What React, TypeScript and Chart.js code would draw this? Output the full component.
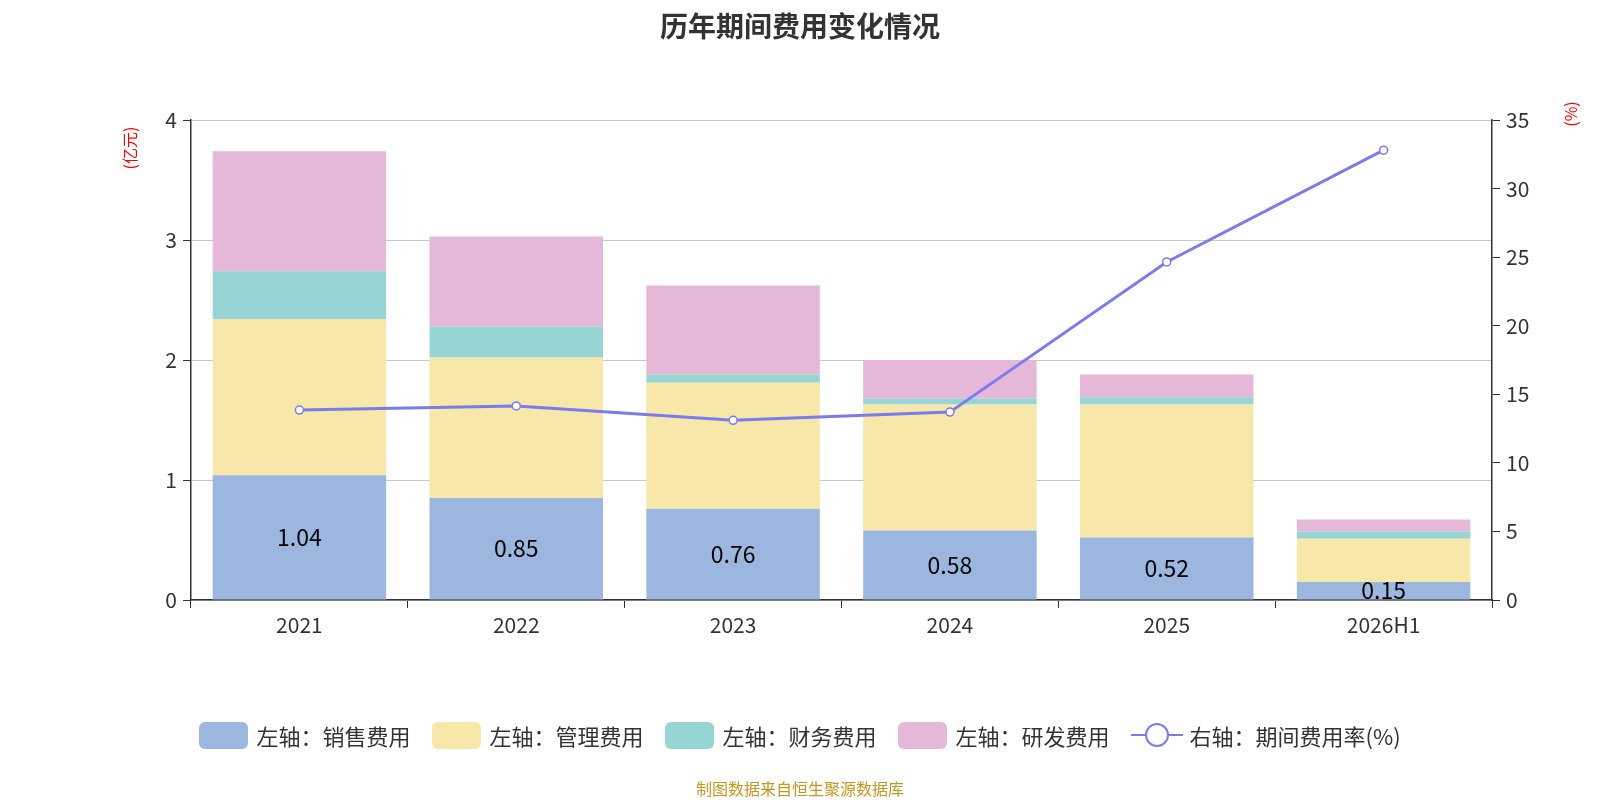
import React, { useEffect, useRef } from "react";
import { Chart, registerables } from "chart.js";
Chart.register(...registerables);

const categories = ["2021", "2022", "2023", "2024", "2025", "2026H1"];
const sales = [1.04, 0.85, 0.76, 0.58, 0.52, 0.15];
const admin = [1.3, 1.17, 1.05, 1.05, 1.11, 0.36];
const finance = [0.4, 0.26, 0.07, 0.05, 0.06, 0.06];
const rnd = [1.0, 0.75, 0.74, 0.32, 0.19, 0.1];
const rate = [13.85, 14.15, 13.1, 13.7, 24.65, 32.8];

const FONT = "'Noto Sans CJK SC', 'Noto Sans', sans-serif";
const C = { sales: "#9bb7e0", admin: "#f7e7a9", fin: "#97d4d4", rnd: "#e6b8d8", line: "#7b7bf0" };

const extras = {
  id: "extras",
  afterDatasetsDraw(chart: any) {
    const ctx = chart.ctx;
    const meta = chart.getDatasetMeta(0);
    ctx.save();
    ctx.font = `23px ${FONT}`;
    ctx.fillStyle = "#000";
    ctx.textAlign = "center";
    ctx.textBaseline = "middle";
    meta.data.forEach((b: any, i: number) => {
      ctx.fillText(sales[i].toFixed(2), b.x, (b.y + b.base) / 2);
    });
    ctx.fillStyle = "red";
    ctx.font = `16px ${FONT}`;
    ctx.translate(130, 148);
    ctx.rotate(-Math.PI / 2);
    ctx.fillText("(亿元)", 0, 0);
    ctx.restore();
    ctx.save();
    ctx.fillStyle = "red";
    ctx.font = `16px ${FONT}`;
    ctx.textAlign = "center";
    ctx.textBaseline = "middle";
    ctx.translate(1571, 114);
    ctx.rotate(-Math.PI / 2);
    ctx.fillText("(%)", 0, 0);
    ctx.restore();
  },
};

export default function App() {
  const ref = useRef<HTMLCanvasElement>(null);
  useEffect(() => {
    document.body.style.margin = "0";
    const bar = (label: string, data: number[], color: string) => ({
      type: "bar" as const, label, data, backgroundColor: color, stack: "s", yAxisID: "y",
      categoryPercentage: 0.8, barPercentage: 1, order: 2,
    });
    const chart = new Chart(ref.current!, {
      type: "bar",
      data: {
        labels: categories,
        datasets: [
          bar("左轴：销售费用", sales, C.sales),
          bar("左轴：管理费用", admin, C.admin),
          bar("左轴：财务费用", finance, C.fin),
          bar("左轴：研发费用", rnd, C.rnd),
          {
            type: "line" as const, label: "右轴：期间费用率(%)", data: rate, yAxisID: "y1",
            borderColor: C.line, backgroundColor: "#fff", borderWidth: 3, pointRadius: 4,
            pointBorderWidth: 1.5, pointBackgroundColor: "#fff", pointBorderColor: C.line, order: 1,
          } as any,
        ],
      },
      options: {
        responsive: false, animation: false,
        layout: { padding: { top: 120, left: 0, right: 0, bottom: 0 } },
        plugins: { legend: { display: false }, tooltip: { enabled: false } },
        scales: {
          x: {
            stacked: true,
            grid: { display: true, drawOnChartArea: false, offset: true, tickLength: 8, color: "#333" },
            border: { color: "#333", width: 1.5 },
            ticks: { color: "#333", font: { size: 21, family: FONT }, padding: 4 },
            afterFit: (s: any) => { s.height = 200; },
          },
          y: {
            stacked: true, position: "left", min: 0, max: 4,
            ticks: { stepSize: 1, color: "#333", font: { size: 21, family: FONT }, padding: 6 },
            grid: { color: "#c8c8c8", tickLength: 8, tickColor: "#333" },
            border: { color: "#333", width: 1.5 },
            afterFit: (s: any) => { s.width = 191; },
          },
          y1: {
            position: "right", min: 0, max: 35,
            ticks: { stepSize: 5, color: "#333", font: { size: 21, family: FONT }, padding: 6 },
            grid: { drawOnChartArea: false, tickLength: 8, color: "#333" },
            border: { color: "#333", width: 1.5 },
            afterFit: (s: any) => { s.width = 108; },
          },
        },
      },
      plugins: [extras],
    });
    return () => chart.destroy();
  }, []);

  const item = (color: string, text: string) => (
    <div style={{ display: "flex", alignItems: "center", marginRight: 22 }}>
      <div style={{ width: 49, height: 27, borderRadius: 6, background: color, marginRight: 8 }} />
      <span>{text}</span>
    </div>
  );

  return (
    <div style={{ position: "relative", width: 1600, height: 800, fontFamily: FONT, background: "#fff" }}>
      <canvas ref={ref} width={1600} height={800} style={{ position: "absolute", left: 0, top: 0 }} />
      <div style={{ position: "absolute", top: 5, left: 0, width: 1600, textAlign: "center", fontSize: 28, fontWeight: "bold", color: "#333" }}>
        历年期间费用变化情况
      </div>
      <div style={{ position: "absolute", top: 719, left: 0, width: 1600, display: "flex", justifyContent: "center", fontSize: 22, color: "#333" }}>
        {item(C.sales, "左轴：销售费用")}
        {item(C.admin, "左轴：管理费用")}
        {item(C.fin, "左轴：财务费用")}
        {item(C.rnd, "左轴：研发费用")}
        <div style={{ display: "flex", alignItems: "center" }}>
          <svg width={52} height={30} style={{ marginRight: 6 }}>
            <line x1={0} y1={15} x2={52} y2={15} stroke={C.line} strokeWidth={2} />
            <circle cx={26} cy={15} r={11} fill="#fff" stroke={C.line} strokeWidth={2} />
          </svg>
          <span>右轴：期间费用率(%)</span>
        </div>
      </div>
      <div style={{ position: "absolute", top: 776, left: 0, width: 1600, textAlign: "center", fontSize: 16, color: "#c8961e" }}>
        制图数据来自恒生聚源数据库
      </div>
    </div>
  );
}
